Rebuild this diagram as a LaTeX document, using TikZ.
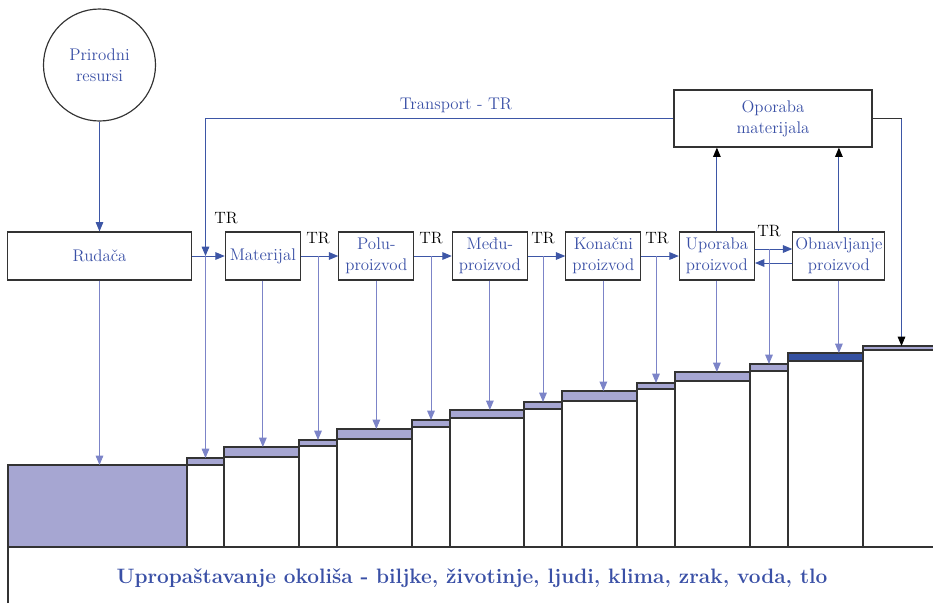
\documentclass[tikz,border=0pt]{standalone}
\usetikzlibrary{arrows.meta, positioning}
\definecolor{txtBlue}{HTML}{3A50A6}
\definecolor{lnBlue}{HTML}{3D56A6}
\definecolor{dnBlue}{HTML}{7C84C8}
\definecolor{fBand}{HTML}{A6A6D2}
\definecolor{fDark}{HTML}{3450A0}
\definecolor{bdr}{HTML}{333333}
\tikzset{
  box/.style={draw=bdr, line width=1pt, minimum width=2.25cm, minimum height=1.44cm,
    inner sep=1pt, align=center, text=txtBlue, font=\Large},
  res/.style={circle, draw=bdr, line width=1pt, minimum size=3.36cm,
    align=center, text=txtBlue, font=\Large},
  trlab/.style={font=\fontsize{14}{16}\selectfont, text=black},
  A/.style={-{Triangle[length=8pt,width=6.5pt]}, lnBlue, line width=0.8pt},
  dn/.style={-{Triangle[length=8pt,width=6.5pt]}, dnBlue, line width=0.8pt},
  up/.style={-{Triangle[length=8pt,width=6.5pt,color=black]}, lnBlue, line width=0.8pt},
  stepln/.style={draw=bdr, line width=0.9pt},
}

\begin{document}
\begin{tikzpicture}[x=0.03cm, y=-0.03cm, node distance=1.12cm]
\path[use as bounding box] (0,0) rectangle (933,603);
\clip (0,0) rectangle (933,603);

% ---- top: resources, main row, recycling ----
\node[res] (res) at (99.5,65) {Prirodni\\resursi};
\node[box, minimum width=5.5cm] (rud) at (99.5,256) {Ruda\v{c}a};
\node[box, right=0.99cm of rud] (mat) {Materijal};
\node[box, right=of mat] (polu) {Polu-\\proizvod};
\node[box, right=of polu] (medu) {Među-\\proizvod};
\node[box, right=of medu] (kon) {Konačni\\proizvod};
\node[box, right=of kon] (upo) {Uporaba\\proizvod};
\node[box, right=of upo, minimum width=2.76cm] (obn) {Obnavljanje\\proizvod};
\node[box, minimum width=5.94cm, minimum height=1.71cm] (opo) at (773,118.5) {Oporaba\\materijala};
\node[font=\Large, text=txtBlue] (trn) at (456,105) {Transport - TR};

% TR labels
\node[trlab] (tr1) at (226,218) {TR};
\node[trlab] (tr2) at (318,238) {TR};
\node[trlab] (tr3) at (431,238) {TR};
\node[trlab] (tr4) at (543,238) {TR};
\node[trlab] (tr5) at (657,238) {TR};
\node[trlab] (tr6) at (769,231) {TR};

% ---- steps (x1/x2/top/band bottom/colour) ----
\filldraw[stepln, fill=fBand] (8,465) rectangle (187,547);
\coordinate (t0) at (97.5,465);
\foreach \i/\xa/\xb/\yt/\yb/\c in {
  1/187/224/458/465/fBand, 2/224/299/447/457/fBand, 3/299/337/440/446/fBand,
  4/337/412/429/439/fBand, 5/412/450/420/427/fBand, 6/450/524/410/418/fBand,
  7/524/562/402/409/fBand, 8/562/637/391/401/fBand, 9/637/675/383/389/fBand,
  10/675/750/372/381/fBand, 11/750/788/364/371/fBand, 12/788/863/353/361/fDark,
  13/863/940/346/350/fBand}{
  \filldraw[stepln, fill=\c] (\xa,\yt) rectangle (\xb,\yb);
  \draw[stepln] (\xa,\yb) rectangle (\xb,547);
  \coordinate (t\i) at ({(\xa+\xb)/2},\yt);
}

% ---- bottom ----
\draw[stepln] (8,603) -- (8,547) -- (940,547);
\node[font=\fontsize{17.8}{20}\selectfont\bfseries, text=txtBlue] (env) at (472,578)
  {Upropaštavanje okoliša - biljke, životinje, ljudi, klima, zrak, voda, tlo};

% ---- connectors ----
\draw[A] (res) -- (rud);
\draw[A] (rud) -- (mat);
\draw[A] (mat) -- (polu);
\draw[A] (polu) -- (medu);
\draw[A] (medu) -- (kon);
\draw[A] (kon) -- (upo);
\coordinate (ua) at ([yshift=0.21cm]upo.east);
\coordinate (ub) at ([yshift=-0.21cm]upo.east);
\draw[A] (ua) -- (ua -| obn.west);
\draw[A] (ub -| obn.west) -- (ub);
\draw[A] (opo.west) -| (t1 |- rud.east);

\draw[up] (upo) -- (upo |- opo.south);
\draw[up] (obn) -- (obn |- opo.south);
\draw[bdr, line width=1pt] (opo.east) -- (opo.east -| t13);
\draw[up] (opo.east -| t13) -- (t13);

% down to the steps
\draw[dn] (rud) -- (rud.south |- t0);
\draw[dn] (t1 |- rud.east) -- (t1);
\draw[dn] (mat) -- (mat.south |- t2);
\draw[dn] (t3 |- mat.east) -- (t3);
\draw[dn] (polu) -- (polu.south |- t4);
\draw[dn] (t5 |- polu.east) -- (t5);
\draw[dn] (medu) -- (medu.south |- t6);
\draw[dn] (t7 |- medu.east) -- (t7);
\draw[dn] (kon) -- (kon.south |- t8);
\draw[dn] (t9 |- kon.east) -- (t9);
\draw[dn] (upo) -- (upo.south |- t10);
\draw[dn] (ua -| t11) -- (t11);
\draw[dn] (obn) -- (obn.south |- t12);

\end{tikzpicture}
\end{document}
